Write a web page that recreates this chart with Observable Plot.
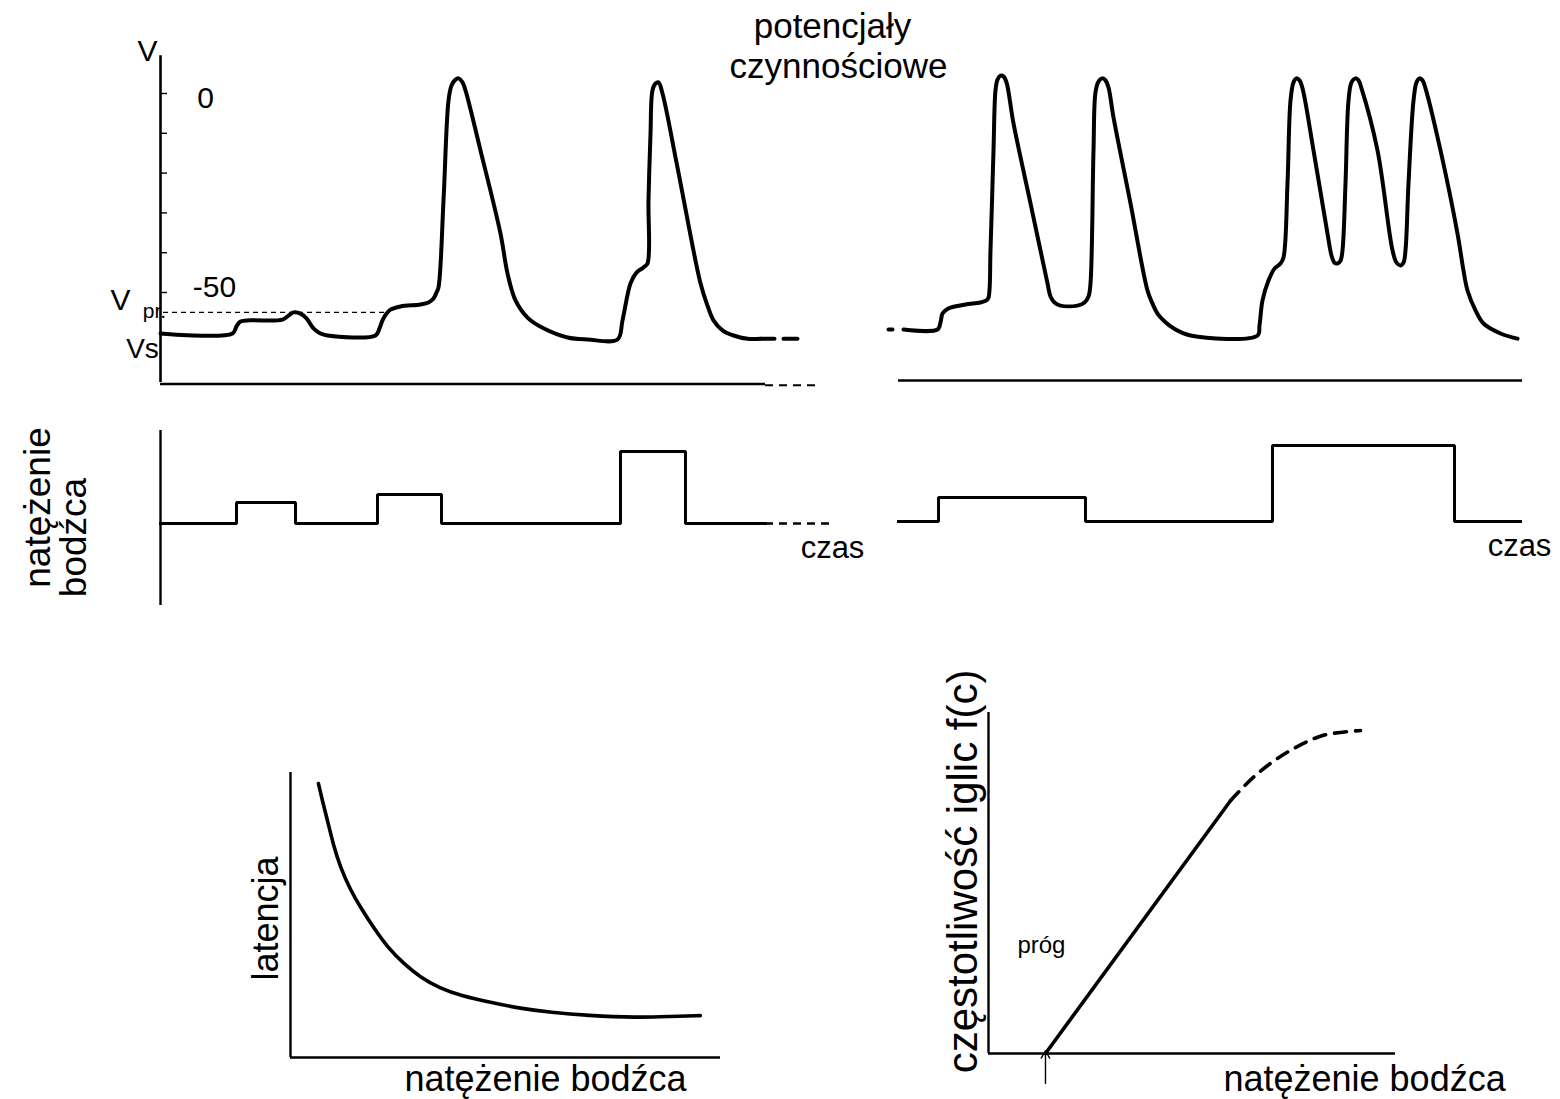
<!DOCTYPE html>
<html><head><meta charset="utf-8">
<script src="https://cdn.jsdelivr.net/npm/d3@7"></script>
<script src="https://cdn.jsdelivr.net/npm/@observablehq/plot@0.6"></script>
<style>
html,body{margin:0;padding:0;background:#fff;}
#stage{position:relative;width:1560px;height:1099px;overflow:hidden;background:#fff;}
#stage svg{position:absolute;left:0;top:0;}
</style></head><body><div id="stage"></div>
<script>
// ---------------- DATA ----------------
// Panel A: membrane potential (time units, mV)
const traceA = [[0,-60.3],[7.2,-60.3],[7.6,-58.5],[8.0,-57.3],[9.0,-57.0],[12.2,-56.8],[12.8,-55.8],[13.3,-55.0],[14.0,-55.3],[14.6,-56.5],[15.3,-59.0],[16.0,-60.3],[16.7,-60.8],[21.5,-60.8],[21.9,-59.0],[22.2,-57.0],[22.6,-55.3],[23.0,-54.3],[24.0,-53.5],[26.0,-53.0],[26.8,-52.5],[27.3,-51.5],[27.6,-50.0],[27.8,-48.7],[28.3,-26.9],[28.8,-1.8],[29.1,2.0],[29.5,3.5],[29.8,3.8],[30.2,2.8],[30.5,0.8],[32.0,-14.3],[34.0,-35.2],[34.7,-45.2],[35.5,-52.0],[36.7,-56.3],[38.3,-59.0],[40.7,-61.3],[42.7,-61.8],[45.7,-61.8],[46.2,-57.0],[47.0,-47.7],[47.6,-45.0],[48.3,-43.7],[48.7,-42.7],[48.8,-26.9],[49.0,-10.1],[49.2,0.8],[49.5,2.5],[49.8,2.8],[50.2,0],[51.7,-18.6],[54.0,-47.7],[54.7,-53.3],[55.3,-57.0],[56.2,-59.5],[57.3,-60.8],[58.7,-61.6],[60.0,-61.6]];
const traceATail = [[60.0,-61.6],[64.5,-61.6]];
const vTicks = [0,-10,-20,-30,-40,-50];
const vTickLabels = ["0","","","","","-50"];
const vThreshold = -55;
const vRest = -60.3;
// Panel A stimulus pulses
const stimAStart = [7.6, 21.7, 46.0];
const stimAEnd   = [13.5, 28.1, 52.5];
const stimAAmp   = [2.1, 2.9, 7.2];

// Panel B: membrane potential
const traceBDot = [[0.8,-59.3],[1.2,-59.3]];
const traceB = [[2.3,-59.3],[5.7,-59.3],[6.0,-57.5],[6.2,-55.3],[6.6,-54.3],[7.0,-53.8],[8.5,-53.0],[10.0,-52.5],[10.6,-52.0],[10.8,-51.3],[11.0,-39.4],[11.3,-14.3],[11.5,0.8],[11.7,3.5],[12.0,4.5],[12.3,4.3],[12.6,2.8],[13.3,-7.5],[15.0,-27.6],[16.7,-47.7],[17.0,-51.0],[17.4,-52.5],[18.0,-53.3],[19.7,-53.3],[20.4,-52.5],[20.8,-51.0],[21.0,-47.7],[21.3,-14.3],[21.5,0.3],[21.8,3.0],[22.2,3.8],[22.5,3.3],[22.8,1.5],[23.3,-6.0],[25.0,-27.6],[26.7,-49.5],[27.2,-52.8],[27.7,-55.3],[28.5,-57.5],[29.3,-59.0],[31.0,-60.8],[37.7,-60.8],[37.9,-58.3],[38.2,-52.0],[38.8,-47.0],[39.4,-44.0],[40.0,-42.7],[40.3,-41.2],[40.7,-22.6],[41.0,-1.8],[41.3,2.8],[41.6,3.8],[41.9,3.3],[42.2,1.3],[43.3,-14.3],[44.7,-35.2],[45.1,-40.7],[45.4,-42.5],[45.7,-42.7],[46.0,-42.0],[46.2,-39.4],[46.5,-22.6],[46.8,-1.8],[47.1,2.8],[47.5,3.8],[47.8,3.3],[48.1,1.3],[49.7,-14.3],[51.2,-39.4],[51.6,-42.5],[52.0,-43.2],[52.3,-42.5],[52.5,-39.4],[52.8,-22.6],[53.3,-1.8],[53.6,2.8],[53.9,3.8],[54.2,3.3],[54.5,1.3],[56.0,-14.3],[57.7,-35.2],[58.3,-44.5],[58.7,-49.5],[59.5,-54.5],[60.3,-57.8],[62.0,-60.3],[63.7,-61.6]];
// Panel B stimulus pulses
const stimBStart = [5.8, 39.2];
const stimBEnd   = [20.5, 57.4];
const stimBAmp   = [2.4, 7.6];

// Bottom-left: latency vs stimulus intensity
const latIntensity = [0.65,0.74,0.86,1.00,1.16,1.40,1.63,1.93,2.26,2.63,3.02,3.49,3.95,4.65,5.35,6.05,6.91,8.07,8.84,9.53];
const latValue     = [9.61,9.02,8.32,7.44,6.67,5.86,5.26,4.56,3.86,3.30,2.81,2.42,2.18,1.93,1.72,1.58,1.47,1.40,1.44,1.47];

// Bottom-right: spike frequency vs stimulus intensity
const freqLinear    = [[1.4,0.0],[5.95,7.42]];
const freqSaturation = [[5.95,7.42],[6.61,8.21],[7.42,8.89],[8.23,9.33],[9.14,9.47]];
const thresholdIntensity = 1.4;

// Texts
const titleLines = ["potencjały","czynnościowe"];
const timeLabel = "czas";
const stimLabelLines = ["natężenie","bodźca"];
const intensityLabel = "natężenie bodźca";
const latencyLabel = "latencja";
const freqLabel = "częstotliwość iglic f(c)";
const thresholdLabel = "próg";

// ---------------- DRAWING ----------------
const FONT = "'Liberation Sans', Arial, Helvetica, sans-serif";
const stage = document.getElementById("stage");
function layer(x, y, marks) {
  const svg = Plot.plot({
    width: 1560, height: 1099, margin: 0,
    x: {...x, axis: null}, y: {...y, axis: null},
    style: {background: "transparent", fontFamily: FONT, overflow: "visible", color: "#000"},
    marks
  });
  stage.appendChild(svg);
}
function pulses(starts, ends, amps, t0, t1) {
  const pts = [[t0, 0]];
  starts.forEach((s, i) => { pts.push([s,0],[s,amps[i]],[ends[i],amps[i]],[ends[i],0]); });
  pts.push([t1, 0]);
  return pts;
}
const X = d => d[0], Y = d => d[1];
const traceStyle = {x: X, y: Y, stroke: "#000", strokeWidth: 4, curve: "catmull-rom"};

// Panel A voltage
layer({domain:[0,66], range:[160,820]}, {domain:[0,-50], range:[93,292]}, [
  Plot.ruleX([0], {y1: 9.5, y2: -72.6, stroke: "#000", strokeWidth: 2.6}),
  Plot.ruleY([-73], {x1: 0, x2: 60.5, stroke: "#000", strokeWidth: 2.6}),
  Plot.ruleY([-73.3], {x1: 60.5, x2: 66, stroke: "#000", strokeWidth: 2.2, strokeDasharray: "8,6"}),
  Plot.ruleY(vTicks, {x1: 0, x2: 0.7, stroke: "#000", strokeWidth: 1.4}),
  Plot.ruleY([vThreshold], {x1: 0.3, x2: 22.5, stroke: "#000", strokeWidth: 1.3, strokeDasharray: "5,4"}),
  Plot.line(traceA, traceStyle),
  Plot.line(traceATail, {...traceStyle, strokeDasharray: "14,9", curve: "linear"}),
  Plot.text(vTickLabels.map((l, i) => ({v: vTicks[i], l})).filter(d => d.l), {x: d => d.l === "0" ? 4.5 : 5.4, y: d => d.v + (d.l === "0" ? -1.2 : 1.4), text: "l", fontSize: 30, fill: "#000"}),
  Plot.text(["V"], {x: -1.3, y: 10.6, text: d => d, fontSize: 30, fill: "#000"}),
  Plot.text(["V"], {x: -4.0, y: vThreshold + 3.0, text: d => d, fontSize: 30, fill: "#000"}),
  Plot.text(["pr."], {x: -0.6, y: vThreshold + 0.4, text: d => d, fontSize: 21, fill: "#000"}),
  Plot.text(["Vs"], {x: -1.8, y: vRest - 3.8, text: d => d, fontSize: 28, fill: "#000"}),
  Plot.text(titleLines, {x: [67.2, 67.8], y: [16.8, 6.6], text: d => d, fontSize: 35, fill: "#000"})
]);

// Panel A stimulus
layer({domain:[0,66], range:[160,820]}, {domain:[0,10], range:[523,423]}, [
  Plot.ruleX([0], {y1: 9.3, y2: -8.2, stroke: "#000", strokeWidth: 2.4}),
  Plot.line(pulses(stimAStart, stimAEnd, stimAAmp, 0, 60.5), {x: X, y: Y, stroke: "#000", strokeWidth: 3, strokeLinejoin: "miter", strokeLinecap: "square"}),
  Plot.ruleY([0], {x1: 60.5, x2: 67, stroke: "#000", strokeWidth: 2.4, strokeDasharray: "8,6"}),
  Plot.text([timeLabel], {x: 67.2, y: -2.5, text: d => d, fontSize: 31, fill: "#000"}),
  Plot.text([stimLabelLines[0]], {x: -12.2, y: 1.6, text: d => d, rotate: -90, fontSize: 37, fill: "#000"}),
  Plot.text([stimLabelLines[1]], {x: -8.6, y: -1.4, text: d => d, rotate: -90, fontSize: 37, fill: "#000"})
]);

// Panel B voltage
layer({domain:[0,66], range:[880,1540]}, {domain:[0,-50], range:[93,292]}, [
  Plot.ruleY([-72.1], {x1: 1.8, x2: 64.2, stroke: "#000", strokeWidth: 2.6}),
  Plot.line(traceBDot, {...traceStyle, curve: "linear"}),
  Plot.line(traceB, traceStyle)
]);

// Panel B stimulus
layer({domain:[0,66], range:[880,1540]}, {domain:[0,10], range:[521,421]}, [
  Plot.line(pulses(stimBStart, stimBEnd, stimBAmp, 1.8, 64.0), {x: X, y: Y, stroke: "#000", strokeWidth: 3, strokeLinejoin: "miter", strokeLinecap: "square"}),
  Plot.text([timeLabel], {x: 63.9, y: -2.5, text: d => d, fontSize: 31, fill: "#000"})
]);

// Bottom-left: latency
layer({domain:[0,10], range:[290,720]}, {domain:[0,10], range:[1057,772]}, [
  Plot.ruleX([0], {y1: 0, y2: 10, stroke: "#000", strokeWidth: 2.4}),
  Plot.ruleY([0], {x1: 0, x2: 10, stroke: "#000", strokeWidth: 2.4}),
  Plot.line(latIntensity.map((s, i) => [s, latValue[i]]), {x: X, y: Y, stroke: "#000", strokeWidth: 3.6, curve: "basis"}),
  Plot.text([latencyLabel], {x: -0.56, y: 4.88, text: d => d, rotate: -90, fontSize: 36, fill: "#000"}),
  Plot.text([intensityLabel], {x: 5.93, y: -0.78, text: d => d, fontSize: 36, fill: "#000"})
]);

// Bottom-right: spike frequency
layer({domain:[0,10], range:[988,1395]}, {domain:[0,10], range:[1053,712]}, [
  Plot.ruleX([0], {y1: 0, y2: 10, stroke: "#000", strokeWidth: 2.4}),
  Plot.ruleY([0], {x1: 0, x2: 10, stroke: "#000", strokeWidth: 2.4}),
  Plot.line(freqLinear, {x: X, y: Y, stroke: "#000", strokeWidth: 3.6}),
  Plot.line(freqSaturation, {x: X, y: Y, stroke: "#000", strokeWidth: 3.6, curve: "catmull-rom", strokeDasharray: "12,9"}),
  Plot.arrow([thresholdIntensity], {x1: d => d, x2: d => d, y1: -0.88, y2: 0.08, stroke: "#000", strokeWidth: 1.4, headLength: 9}),
  Plot.text([thresholdLabel], {x: 1.30, y: 3.17, text: d => d, fontSize: 24, fill: "#000"}),
  Plot.text([freqLabel], {x: -0.62, y: 5.34, text: d => d, rotate: -90, fontSize: 42, fill: "#000"}),
  Plot.text([intensityLabel], {x: 9.24, y: -0.76, text: d => d, fontSize: 36, fill: "#000"})
]);
</script></body></html>
